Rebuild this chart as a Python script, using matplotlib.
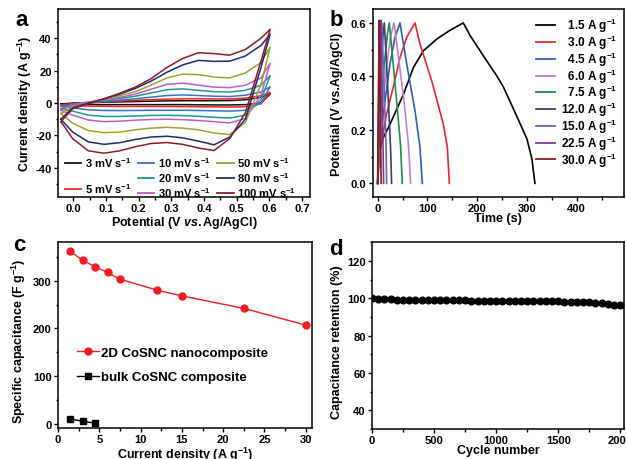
import matplotlib
matplotlib.use('Agg')
import matplotlib.pyplot as plt
from matplotlib.lines import Line2D
from matplotlib.ticker import MultipleLocator, AutoMinorLocator

plt.rcParams['font.family'] = ['Liberation Sans', 'DejaVu Sans']
plt.rcParams['font.weight'] = 'bold'
plt.rcParams['axes.labelweight'] = 'bold'
plt.rcParams['mathtext.fontset'] = 'custom'
plt.rcParams['mathtext.rm'] = 'Liberation Sans:bold'
plt.rcParams['mathtext.bf'] = 'Liberation Sans:bold'
plt.rcParams['mathtext.it'] = 'Liberation Sans:italic:bold'
plt.rcParams['mathtext.default'] = 'bf'
plt.rcParams['axes.unicode_minus'] = False

# ---------------- Panel a: CV curves ----------------
cv_rates = ['3', '5', '10', '20', '30', '50', '80', '100']
cv_colors = ['#111111', '#ee2222', '#3a6fc4', '#1a9a8a', '#c45ac8', '#a0a030', '#1f2a6e', '#8a1c2a']
cv_up_x = [-0.038, -0.002, 0.046, 0.094, 0.142, 0.19, 0.238, 0.287, 0.335, 0.383, 0.431, 0.479, 0.527, 0.575, 0.603]
cv_lo_x = [0.603, 0.575, 0.527, 0.479, 0.431, 0.383, 0.335, 0.287, 0.238, 0.19, 0.142, 0.094, 0.046, -0.002, -0.038]
cv_up = {
    '3':   [-0.6, 0, 0.3, 0.5, 0.7, 0.9, 1.1, 1.3, 1.4, 1.4, 1.4, 1.5, 2, 3.5, 5.5],
    '5':   [-1.2, -0.2, 0.3, 0.8, 1.2, 1.6, 2, 2.4, 2.6, 2.6, 2.5, 2.5, 3, 4.5, 6.5],
    '10':  [-2, -0.7, 0.2, 1, 1.8, 2.6, 3.6, 4.6, 5, 4.6, 4.2, 4, 4.8, 6.8, 10],
    '20':  [-3.5, -1, 0.3, 1.5, 2.8, 4.2, 6.2, 8.2, 8.7, 7.8, 7, 6.8, 7.8, 11, 17],
    '30':  [-4.5, -1.5, 0.5, 2, 3.5, 5.5, 8.5, 11.5, 12.3, 11, 9.8, 9.5, 11, 15.5, 24.5],
    '50':  [-6.5, -2.5, 0, 2.5, 4.5, 7, 11, 15.5, 17.8, 17.5, 16, 15.5, 18.5, 25, 34.5],
    '80':  [-10, -3, 0, 2.5, 5.5, 9, 13.5, 19, 23.5, 26.3, 25.7, 25.8, 29, 35.5, 42.5],
    '100': [-11.5, -3.5, -0.5, 2.7, 6, 9.8, 15, 22, 27.5, 31, 30.5, 29.5, 33, 40, 45.5],
}
cv_lo = {
    '3':   [5.5, 0, -1.0, -1.2, -1.2, -1.1, -1.0, -1.0, -1.0, -1.0, -1.0, -1.0, -0.9, -0.8, -0.6],
    '5':   [6.5, -0.5, -2.3, -2.5, -2.4, -2.3, -2.2, -2.1, -2.1, -2.1, -2.1, -2, -1.9, -1.5, -1.2],
    '10':  [10, 0, -4.5, -5, -4.8, -4.6, -4.5, -4.5, -4.5, -4.6, -4.7, -4.6, -4.2, -3, -2],
    '20':  [17, 2, -7.5, -9.3, -8.8, -8.2, -7.8, -7.6, -7.7, -8, -8.3, -8.3, -7.5, -5, -3.5],
    '30':  [24.5, 5, -9.5, -12.3, -11.5, -10.8, -10.3, -10, -10.2, -10.6, -11.2, -11.5, -10.5, -7.5, -4.5],
    '50':  [34.5, 11.5, -12, -19.5, -18.5, -16.5, -15.5, -15, -15.5, -16.5, -18, -18.3, -17, -12.5, -6.5],
    '80':  [42.5, 22, -10, -21, -25.8, -23.5, -21.5, -20.5, -21, -22.5, -24.5, -25.5, -24, -18, -10],
    '100': [45.5, 26, -6, -22, -29.3, -27.8, -25.5, -24.4, -25, -27, -29.5, -31, -29.5, -22, -11.5],
}

# ---------------- Panel b: GCD curves ----------------
gcd_labels = ['1.5', '3.0', '4.5', '6.0', '7.5', '12.0', '15.0', '22.5', '30.0']
gcd_colors = ['#000000', '#e8262b', '#2a5fbf', '#c77dcf', '#1e8c4a', '#3a3f6e', '#6a63b8', '#7b3b91', '#8b1a1a']
gcd_t = [
    [0, 3, 11, 25, 52, 72, 92, 119, 145, 172, 186, 212, 239, 253, 279, 300, 310, 316],
    [0, 3.3, 18, 31.4, 44.8, 58.3, 75, 85, 108.5, 131.9, 140, 144],
    [0, 3, 11.3, 24.7, 34.8, 44.8, 58.3, 75, 85, 89.7],
    [0, 2.5, 9, 18, 26, 32.8, 42, 54, 62, 66.3],
    [0, 2, 7, 13, 19, 23.4, 30, 39, 46, 49.5],
    [0, 1.5, 4.5, 8, 10.5, 13.3, 17.5, 22, 26, 28],
    [0, 1, 3.5, 6.5, 8.4, 11.5, 14.5, 17, 18],
    [0, 0.8, 2.5, 4.5, 6.6, 8.5, 10.5, 12],
    [0, 0.5, 1.5, 3.2, 4.5, 6, 7],
]
gcd_v = [
    [0, 0.12, 0.17, 0.222, 0.334, 0.434, 0.496, 0.54, 0.572, 0.6, 0.552, 0.478, 0.403, 0.359, 0.253, 0.166, 0.091, 0.0],
    [0, 0.11, 0.26, 0.36, 0.47, 0.546, 0.6, 0.521, 0.384, 0.222, 0.135, 0],
    [0, 0.12, 0.26, 0.446, 0.546, 0.6, 0.446, 0.272, 0.135, 0],
    [0, 0.12, 0.27, 0.44, 0.55, 0.6, 0.47, 0.29, 0.14, 0],
    [0, 0.12, 0.28, 0.44, 0.55, 0.6, 0.47, 0.29, 0.14, 0],
    [0, 0.13, 0.3, 0.46, 0.55, 0.6, 0.46, 0.29, 0.13, 0],
    [0, 0.13, 0.3, 0.47, 0.6, 0.43, 0.27, 0.13, 0],
    [0, 0.13, 0.33, 0.5, 0.61, 0.38, 0.16, 0],
    [0, 0.14, 0.35, 0.61, 0.38, 0.14, 0],
]

# ---------------- Panel c: specific capacitance ----------------
cur_dens_2d = [1.5, 3, 4.5, 6, 7.5, 12, 15, 22.5, 30]
cap_2d = [361, 342, 329, 317, 303, 280, 268, 242, 207]
cur_dens_bulk = [1.5, 3, 4.5]
cap_bulk = [10.5, 6.3, 2]

# ---------------- Panel d: cycling ----------------
cycles = [0, 50, 100, 150, 200, 250, 300, 350, 400, 450, 500, 550, 600, 650, 700,
          750, 800, 850, 900, 950, 1000, 1050, 1100, 1150, 1200, 1250, 1300, 1350,
          1400, 1450, 1500, 1550, 1600, 1650, 1700, 1750, 1800, 1850, 1900, 1950, 2000]
retention = [100.0, 99.6, 99.5, 99.4, 99.3, 99.3, 99.2, 99.2, 99.1, 99.1, 99.0, 99.0,
             99.0, 98.9, 98.9, 98.9, 98.8, 98.8, 98.8, 98.7, 98.7, 98.7, 98.6, 98.6,
             98.6, 98.5, 98.5, 98.4, 98.4, 98.3, 98.3, 98.2, 98.2, 98.1, 98.0, 97.9,
             97.7, 97.5, 97.0, 96.6, 96.4]

W, H = 626, 460
fig = plt.figure(figsize=(W / 100, H / 100), dpi=100)


def px_axes(l, t, r, b):
    return fig.add_axes([l / W, 1 - b / H, (r - l) / W, (b - t) / H])


def style(ax, xmaj, ymaj):
    ax.xaxis.set_major_locator(MultipleLocator(xmaj))
    ax.xaxis.set_minor_locator(AutoMinorLocator(2))
    ax.yaxis.set_major_locator(MultipleLocator(ymaj))
    ax.yaxis.set_minor_locator(AutoMinorLocator(2))
    ax.tick_params(which='both', direction='out', top=False, right=False,
                   width=1.0, labelsize=8, pad=1.5)
    ax.tick_params(which='major', length=3)
    ax.tick_params(which='minor', length=1.8)
    for s in ax.spines.values():
        s.set_linewidth(1.1)


LAB = 9

# ---- a ----
axa = px_axes(58, 10, 310, 198)
for r, c in zip(cv_rates, cv_colors):
    axa.plot(cv_up_x + cv_lo_x, cv_up[r] + cv_lo[r], color=c, lw=1.1)
axa.set_xlim(-0.047, 0.725)
axa.set_ylim(-58, 58)
style(axa, 0.1, 20)
axa.set_xlabel(r'Potential (V $\mathit{vs.}$Ag/AgCl)', fontsize=LAB)
axa.set_ylabel(r'Current density (A g$^{-1}$)', fontsize=LAB)
axa.xaxis.set_label_coords(0.5, -0.088)
axa.yaxis.set_label_coords(-0.095, 0.5)
hand = {r: Line2D([], [], color=c, lw=1.3) for r, c in zip(cv_rates, cv_colors)}
blank = Line2D([], [], color='none')
order = ['3', None, '5', '10', '20', '30', '50', '80', '100']
hs = [hand[o] if o else blank for o in order]
ls = [(o + r' mV s$^{-1}$') if o else ' ' for o in order]
axa.legend(hs, ls, ncol=3, loc='lower left', bbox_to_anchor=(-0.005, -0.05),
           frameon=False, fontsize=8, handlelength=1.5, handletextpad=0.3,
           columnspacing=0.6, labelspacing=0.1, borderpad=0.2)

# ---- b ----
axb = px_axes(372.7, 10, 624, 198)
for t, v, c in zip(gcd_t, gcd_v, gcd_colors):
    axb.plot(t, v, color=c, lw=1.2)
axb.set_xlim(-10, 495)
axb.set_ylim(-0.051, 0.652)
style(axb, 100, 0.2)
axb.set_xlabel('Time (s)', fontsize=LAB)
axb.set_ylabel('Potential (V vs.Ag/AgCl)', fontsize=LAB)
axb.xaxis.set_label_coords(0.5, -0.082)
axb.yaxis.set_label_coords(-0.118, 0.5)
hb = [Line2D([], [], color=c, lw=1.3) for c in gcd_colors]
lb = [('  ' if len(g) == 3 else '') + g + r' A g$^{-1}$' for g in gcd_labels]
axb.legend(hb, lb, loc='upper right', bbox_to_anchor=(1.0, 1.0), frameon=False,
           fontsize=8.5, handlelength=1.6, handletextpad=0.5, labelspacing=-0.12,
           borderpad=0.3, borderaxespad=0.3)

# ---- c ----
axc = px_axes(58, 243.3, 311.5, 429)
axc.plot(cur_dens_2d, cap_2d, 'o-', color='#ee1c24', ms=5, lw=1.0,
         label='2D CoSNC nanocomposite')
axc.plot(cur_dens_bulk, cap_bulk, 's-', color='#000000', ms=4, lw=1.0,
         label='bulk CoSNC composite')
axc.set_xlim(0, 30.7)
axc.set_ylim(-8, 380)
style(axc, 5, 100)
axc.set_xlabel(r'Current density (A g$^{-1}$)', fontsize=LAB)
axc.set_ylabel(r'Specific capacitance (F g$^{-1}$)', fontsize=LAB)
axc.xaxis.set_label_coords(0.5, -0.092)
axc.yaxis.set_label_coords(-0.12, 0.47)
axc.legend(loc='center left', bbox_to_anchor=(0.03, 0.34), frameon=False,
           fontsize=9.5, handlelength=1.6, handletextpad=0.2, labelspacing=0.95)

# ---- d ----
axd = px_axes(372, 243.3, 624, 430)
axd.plot(cycles, retention, 'o', color='#000000', ms=4.8, ls='none')
axd.set_xlim(0, 2030)
axd.set_ylim(30, 130)
style(axd, 500, 20)
axd.set_xlabel('Cycle number', fontsize=LAB)
axd.set_ylabel('Capacitance retention (%)', fontsize=LAB)
axd.xaxis.set_label_coords(0.5, -0.082)
axd.yaxis.set_label_coords(-0.115, 0.47)

# panel letters
for s, x, y in [('a', 22, 20), ('b', 336, 20), ('c', 19, 246), ('d', 336, 250)]:
    fig.text(x / W, 1 - y / H, s, fontsize=16, fontweight='bold',
             ha='center', va='center')

fig.savefig('out.png', dpi=100)
